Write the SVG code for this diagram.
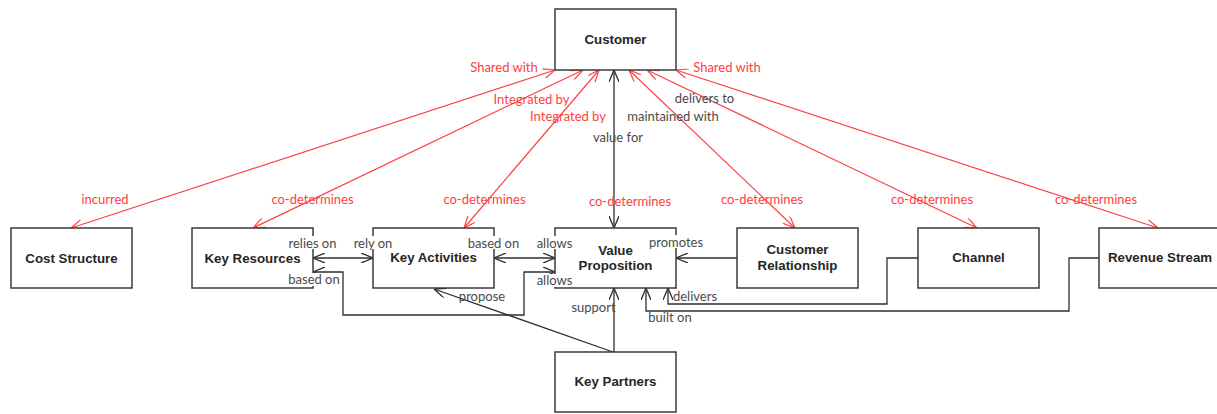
<svg xmlns="http://www.w3.org/2000/svg" width="1217" height="414" viewBox="0 0 1217 414">
  <style>
    .box { fill: #ffffff; stroke: #3a3a3a; stroke-width: 1.5; }
    .name { font-family: "Liberation Sans", Arial, sans-serif; font-weight: bold; font-size: 13.3px; fill: #262626; text-anchor: middle; }
    .link { fill: none; stroke: #2e2e2e; stroke-width: 1.3; }
    .rlink { fill: none; stroke: #ff4040; stroke-width: 1.2; }
    .lbl { font-family: Lato, "Liberation Sans", sans-serif; font-size: 13px; fill: #4a4a4a; text-anchor: middle; }
    .rlbl { font-family: Lato, "Liberation Sans", sans-serif; font-size: 13px; fill: #ff4040; text-anchor: middle; }
    .bg { fill: #ffffff; }
  </style>
  <defs>
    <marker id="arr" viewBox="0 0 12 10" refX="12" refY="5" markerWidth="12" markerHeight="10" markerUnits="userSpaceOnUse" orient="auto-start-reverse">
      <path d="M0,0 L12,5 L0,10" fill="none" stroke="#2e2e2e" stroke-width="1.3"/>
    </marker>
    <marker id="rarr" viewBox="0 0 12 10" refX="12" refY="5" markerWidth="12" markerHeight="10" markerUnits="userSpaceOnUse" orient="auto-start-reverse">
      <path d="M0,0 L12,5 L0,10" fill="none" stroke="#ff4040" stroke-width="1.2"/>
    </marker>
  </defs>

  <rect width="1217" height="414" fill="#ffffff"/>

  <!-- connectors -->
  <g id="connectors">
    <!-- Customer to each building block (red, both ways) -->
    <line class="rlink" x1="555" y1="70" x2="71" y2="228" marker-start="url(#rarr)" marker-end="url(#rarr)"/>
    <line class="rlink" x1="583" y1="70" x2="253" y2="228" marker-start="url(#rarr)" marker-end="url(#rarr)"/>
    <line class="rlink" x1="599" y1="70" x2="464" y2="228" marker-start="url(#rarr)" marker-end="url(#rarr)"/>
    <line class="rlink" x1="629" y1="70" x2="795" y2="228" marker-start="url(#rarr)" marker-end="url(#rarr)"/>
    <line class="rlink" x1="647" y1="70" x2="977" y2="228" marker-start="url(#rarr)" marker-end="url(#rarr)"/>
    <line class="rlink" x1="676" y1="70" x2="1158" y2="228" marker-start="url(#rarr)" marker-end="url(#rarr)"/>

    <!-- Customer <-> Value Proposition -->
    <line class="link" x1="614" y1="70" x2="614" y2="228" marker-start="url(#arr)" marker-end="url(#arr)"/>
    <!-- Key Resources <-> Key Activities -->
    <line class="link" x1="313" y1="258" x2="373" y2="258" marker-start="url(#arr)" marker-end="url(#arr)"/>
    <!-- Key Activities <-> Value Proposition -->
    <line class="link" x1="494" y1="258" x2="555" y2="258" marker-start="url(#arr)" marker-end="url(#arr)"/>
    <!-- Key Resources <-> Value Proposition (routed below) -->
    <polyline class="link" points="313,272 343,272 343,315 524,315 524,272 555,272" marker-start="url(#arr)" marker-end="url(#arr)"/>
    <!-- Customer Relationship -> Value Proposition -->
    <line class="link" x1="737" y1="258" x2="676" y2="258" marker-end="url(#arr)"/>
    <!-- Channel -> Value Proposition -->
    <polyline class="link" points="918,258 887,258 887,304 668,304 668,288" marker-end="url(#arr)"/>
    <!-- Revenue Stream -> Value Proposition -->
    <polyline class="link" points="1100,258 1069,258 1069,311 646,311 646,288" marker-end="url(#arr)"/>
    <!-- Key Partners -> Value Proposition -->
    <line class="link" x1="614" y1="352" x2="614" y2="288" marker-end="url(#arr)"/>
    <!-- Key Partners -> Key Activities -->
    <line class="link" x1="613" y1="352" x2="434" y2="289" marker-end="url(#arr)"/>
  </g>

  <!-- nodes -->
  <g id="customer">
    <rect class="box" x="555" y="9" width="121" height="61"/>
    <text class="name" x="615.5" y="44">Customer</text>
  </g>
  <g id="cost-structure">
    <rect class="box" x="11" y="228" width="121" height="60"/>
    <text class="name" x="71.5" y="262.5">Cost Structure</text>
  </g>
  <g id="key-resources">
    <rect class="box" x="192" y="228" width="121" height="60"/>
    <text class="name" x="252.5" y="262.5">Key Resources</text>
  </g>
  <g id="key-activities">
    <rect class="box" x="373" y="228" width="121" height="60"/>
    <text class="name" x="433.5" y="262">Key Activities</text>
  </g>
  <g id="value-proposition">
    <rect class="box" x="555" y="228" width="121" height="60"/>
    <text class="name" x="615.5" y="254.5">Value</text>
    <text class="name" x="615.5" y="270">Proposition</text>
  </g>
  <g id="customer-relationship">
    <rect class="box" x="737" y="228" width="121" height="60"/>
    <text class="name" x="797.5" y="254">Customer</text>
    <text class="name" x="797.5" y="270">Relationship</text>
  </g>
  <g id="channel">
    <rect class="box" x="918" y="228" width="121" height="60"/>
    <text class="name" x="978.5" y="262">Channel</text>
  </g>
  <g id="revenue-stream">
    <rect class="box" x="1099" y="228" width="122" height="60"/>
    <text class="name" x="1160" y="262">Revenue Stream</text>
  </g>
  <g id="key-partners">
    <rect class="box" x="555" y="352" width="121" height="60"/>
    <text class="name" x="615.5" y="386">Key Partners</text>
  </g>

  <!-- connector labels -->
  <g id="labels">
    <text class="rlbl" x="504" y="71.5">Shared with</text>
    <text class="rlbl" x="727" y="71.5">Shared with</text>
    <text class="rlbl" x="531.5" y="103.5">Integrated by</text>
    <text class="rlbl" x="568" y="120.5">Integrated by</text>
    <text class="lbl" x="704.5" y="102.5">delivers to</text>
    <text class="lbl" x="673" y="120.5">maintained with</text>
    <text class="lbl" x="618" y="141.5">value for</text>

    <text class="rlbl" x="105" y="203.5">incurred</text>
    <text class="rlbl" x="312.5" y="203.5">co-determines</text>
    <text class="rlbl" x="484.5" y="203.5">co-determines</text>
    <text class="rlbl" x="630" y="206">co-determines</text>
    <text class="rlbl" x="762" y="203.5">co-determines</text>
    <text class="rlbl" x="932" y="203.5">co-determines</text>
    <text class="rlbl" x="1096" y="203.5">co-determines</text>

    <rect class="bg" x="288" y="236" width="49" height="13"/>
    <text class="lbl" x="312.5" y="247.5">relies on</text>
    <rect class="bg" x="353" y="236" width="40" height="13"/>
    <text class="lbl" x="373" y="247.5">rely on</text>
    <rect class="bg" x="468" y="236" width="51" height="13"/>
    <text class="lbl" x="493.5" y="247.5">based on</text>
    <rect class="bg" x="537" y="236" width="35" height="13"/>
    <text class="lbl" x="554.5" y="247.5">allows</text>
    <rect class="bg" x="649" y="235" width="54" height="13"/>
    <text class="lbl" x="676" y="246.5">promotes</text>
    <rect class="bg" x="288" y="273" width="52" height="13"/>
    <text class="lbl" x="314" y="283.5">based on</text>
    <rect class="bg" x="537" y="274" width="35" height="13"/>
    <text class="lbl" x="554.5" y="284.5">allows</text>

    <text class="lbl" x="482" y="300.5">propose</text>
    <text class="lbl" x="593.5" y="311.5">support</text>
    <text class="lbl" x="695" y="300.5">delivers</text>
    <text class="lbl" x="670" y="321.5">built on</text>
  </g>
</svg>
